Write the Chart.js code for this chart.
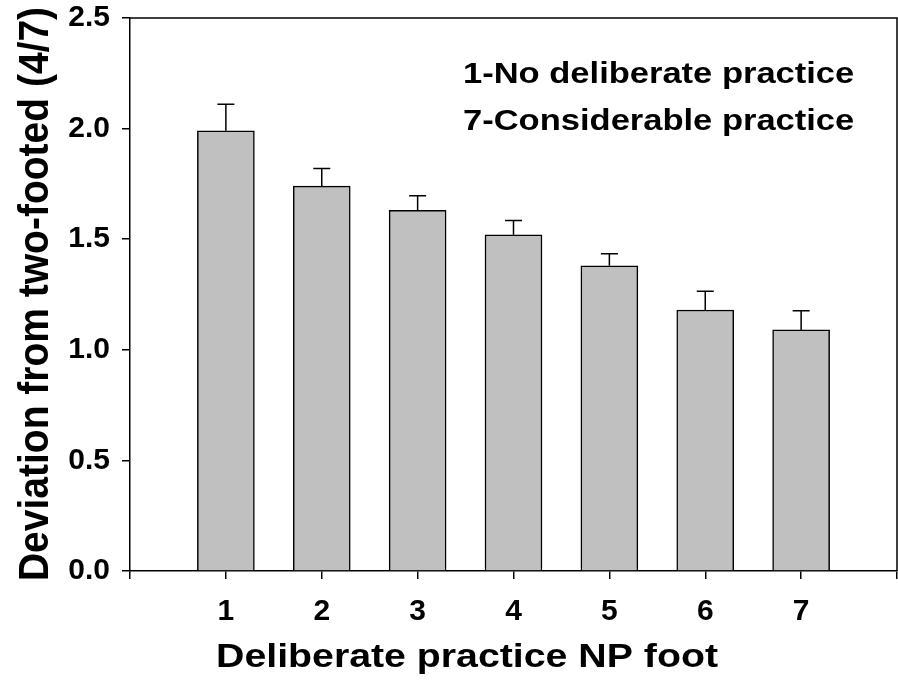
<!DOCTYPE html>
<html>
<head>
<meta charset="utf-8">
<script src="https://cdn.jsdelivr.net/npm/chart.js@4/dist/chart.umd.min.js"></script>
<style>
  html, body { margin: 0; padding: 0; background: #fff; }
  #wrap { width: 898px; height: 688px; }
</style>
</head>
<body>
<div id="wrap"><canvas id="c" width="898" height="688"></canvas></div>
<script>
// Practice level on the non-preferred foot (1 = none, 7 = considerable)
const practiceLevels = [1, 2, 3, 4, 5, 6, 7];
// Mean deviation from two-footedness and its upper error
const meanDeviation = [1.99, 1.74, 1.63, 1.52, 1.38, 1.18, 1.09];
const errorUpper    = [0.12, 0.08, 0.066, 0.065, 0.054, 0.085, 0.086];
const yTickValues   = [0, 0.5, 1.0, 1.5, 2.0, 2.5];
const xTickValues   = [0, 1, 2, 3, 4, 5, 6, 7, 8];

const xTitle = 'Deliberate practice NP foot';
const yTitle = 'Deviation from two-footed (4/7)';
const noteLines = ['1-No deliberate practice', '7-Considerable practice'];

const FAMILY = '"Liberation Sans", Arial, Helvetica, sans-serif';
const tickFont = { family: FAMILY, size: 30, weight: 'bold' };
const WIDE = 1.19;   // the lettering is set slightly extended

// Draws a line of text with horizontal extension around an anchor point
function wideText(ctx, text, x, y, sx, sy) {
  ctx.save();
  ctx.translate(x, y);
  ctx.scale(sx, sy);
  ctx.fillText(text, 0, 0);
  ctx.restore();
}

// Error whiskers, closed frame, inset note and axis titles
const decorations = {
  id: 'decorations',
  afterDatasetsDraw(chart) {
    const { ctx, chartArea: a, scales: { x, y } } = chart;
    ctx.save();
    ctx.strokeStyle = '#000';
    ctx.lineWidth = 1.5;
    practiceLevels.forEach((lv, i) => {
      const px = x.getPixelForValue(lv);
      const top = y.getPixelForValue(meanDeviation[i] + errorUpper[i]);
      const base = y.getPixelForValue(meanDeviation[i]);
      ctx.beginPath();
      ctx.moveTo(px, base);
      ctx.lineTo(px, top);
      ctx.moveTo(px - 8.5, top);
      ctx.lineTo(px + 8.5, top);
      ctx.stroke();
    });
    // top and right edges of the frame
    ctx.beginPath();
    ctx.moveTo(a.left, a.top);
    ctx.lineTo(a.right, a.top);
    ctx.lineTo(a.right, a.bottom);
    ctx.stroke();
    ctx.restore();
  },
  afterDraw(chart) {
    const { ctx } = chart;
    ctx.save();
    ctx.fillStyle = '#000';
    ctx.textBaseline = 'alphabetic';

    ctx.font = `bold 29px ${FAMILY}`;
    ctx.textAlign = 'left';
    wideText(ctx, noteLines[0], 463, 83, WIDE, 1);
    wideText(ctx, noteLines[1], 463, 130, WIDE, 1);

    ctx.font = `bold 33px ${FAMILY}`;
    ctx.textAlign = 'center';
    wideText(ctx, xTitle, 467, 667, WIDE, 1);

    ctx.font = `bold 39px ${FAMILY}`;
    ctx.translate(48, 294);
    ctx.rotate(-Math.PI / 2);
    wideText(ctx, yTitle, 0, 0, 1, 1.08);
    ctx.restore();
  }
};

new Chart(document.getElementById('c'), {
  type: 'bar',
  data: {
    datasets: [{
      data: practiceLevels.map((lv, i) => ({ x: lv, y: meanDeviation[i] })),
      backgroundColor: '#c0c0c0',
      borderColor: '#000',
      borderWidth: 1.5,
      barThickness: 57
    }]
  },
  options: {
    responsive: false,
    animation: false,
    layout: { padding: { top: 18, right: 1, left: 0, bottom: 0 } },
    plugins: { legend: { display: false }, tooltip: { enabled: false } },
    scales: {
      x: {
        type: 'linear',
        min: 0,
        max: 8,
        offset: false,
        afterBuildTicks: s => { s.ticks = xTickValues.map(v => ({ value: v })); },
        ticks: {
          callback: v => practiceLevels.includes(v) ? String(v) : '',
          font: tickFont,
          color: '#000',
          padding: 15,
          maxRotation: 0,
          autoSkip: false
        },
        grid: { offset: false, drawOnChartArea: false, tickLength: 8, color: '#000', lineWidth: 1.5 },
        border: { color: '#000', width: 1.5 },
        afterFit: s => { s.height = 117; s.paddingLeft = 0; s.paddingRight = 0; }
      },
      y: {
        min: 0,
        max: 2.5,
        afterBuildTicks: s => { s.ticks = yTickValues.map(v => ({ value: v })); },
        ticks: {
          callback: v => v.toFixed(1),
          font: tickFont,
          color: '#000',
          padding: 12
        },
        grid: { drawOnChartArea: false, tickLength: 8, color: '#000', lineWidth: 1.5 },
        border: { color: '#000', width: 1.5 },
        afterFit: s => { s.width = 130; s.paddingTop = 0; s.paddingBottom = 0; }
      }
    }
  },
  plugins: [decorations]
});
</script>
</body>
</html>
